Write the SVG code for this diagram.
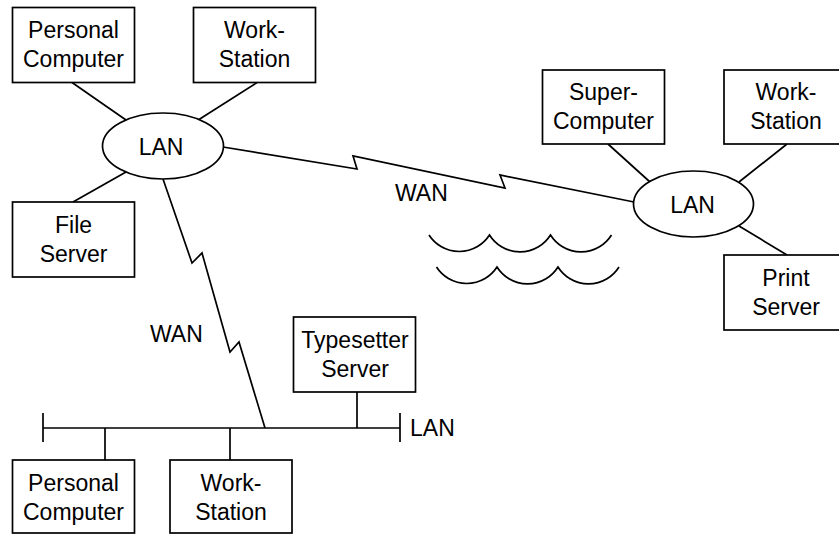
<svg xmlns="http://www.w3.org/2000/svg" width="839" height="535" viewBox="0 0 839 535">
<style>
.box{fill:#fff;stroke:#000;stroke-width:1.7}
.ell{fill:#fff;stroke:#000;stroke-width:1.7}
.ln{fill:none;stroke:#000;stroke-width:1.7;stroke-linejoin:miter}
text{font-family:"Liberation Sans",Arial,Helvetica,sans-serif;font-size:23px;fill:#000}
.c{text-anchor:middle}
</style>
<rect width="839" height="535" fill="#fff"/>
<g id="connectors">
<line class="ln" x1="72" y1="82.5" x2="126" y2="120"/>
<line class="ln" x1="257" y1="82.5" x2="199" y2="119.5"/>
<line class="ln" x1="73" y1="202" x2="126" y2="172"/>
<path class="ln" d="M223,147 L357,169 L353,156 L505,188 L500,175 L634,202"/>
<path class="ln" d="M163,179 L192,263 L202,253 L230,352 L239,342 L265,428"/>
<line class="ln" x1="608" y1="144" x2="650" y2="182"/>
<line class="ln" x1="787" y1="144" x2="739" y2="182"/>
<line class="ln" x1="739" y1="226" x2="787" y2="255"/>
<line class="ln" x1="43" y1="428" x2="400" y2="428"/>
<line class="ln" x1="43" y1="413" x2="43" y2="442"/>
<line class="ln" x1="400" y1="413" x2="400" y2="442"/>
<line class="ln" x1="105" y1="428" x2="105" y2="460"/>
<line class="ln" x1="230" y1="428" x2="230" y2="460"/>
<line class="ln" x1="357" y1="392" x2="357" y2="428"/>
</g>
<g id="waves">
<path class="ln" d="M429,235 A36,36 0 0 0 489.5,235 A36,36 0 0 0 550.5,235 A36,36 0 0 0 611.5,235"/>
<path class="ln" d="M436.5,267 A36,36 0 0 0 497,267 A36,36 0 0 0 558,267 A36,36 0 0 0 619,267"/>
</g>
<g id="labels">
<text x="395" y="201">WAN</text>
<text x="150" y="342">WAN</text>
<text x="410" y="436">LAN</text>
</g>
<g id="pc1"><rect class="box" x="12.5" y="7.5" width="122" height="75"/><text class="c" x="73.5" y="38">Personal</text><text class="c" x="73.5" y="67">Computer</text></g>
<g id="ws1"><rect class="box" x="193.5" y="7.5" width="122" height="75"/><text class="c" x="254.5" y="38">Work-</text><text class="c" x="254.5" y="67">Station</text></g>
<g id="lan1"><ellipse class="ell" cx="163" cy="146" rx="60.5" ry="33"/><text class="c" x="161" y="154.5">LAN</text></g>
<g id="fs"><rect class="box" x="12.5" y="202" width="122" height="75"/><text class="c" x="73.5" y="232.5">File</text><text class="c" x="73.5" y="261.5">Server</text></g>
<g id="sc"><rect class="box" x="542.5" y="70" width="122" height="74"/><text class="c" x="603.5" y="99.5">Super-</text><text class="c" x="603.5" y="128.5">Computer</text></g>
<g id="ws2"><rect class="box" x="724" y="70" width="124" height="74"/><text class="c" x="786" y="99.5">Work-</text><text class="c" x="786" y="128.5">Station</text></g>
<g id="lan2"><ellipse class="ell" cx="693.5" cy="204" rx="60" ry="33"/><text class="c" x="692.5" y="212.5">LAN</text></g>
<g id="ps"><rect class="box" x="724" y="255" width="124" height="75"/><text class="c" x="786" y="285.5">Print</text><text class="c" x="786" y="314.5">Server</text></g>
<g id="ts"><rect class="box" x="293.5" y="317" width="122" height="75"/><text class="c" x="355" y="347.5">Typesetter</text><text class="c" x="355" y="376.5">Server</text></g>
<g id="pc2"><rect class="box" x="12.5" y="460" width="122" height="73"/><text class="c" x="73.5" y="490.5">Personal</text><text class="c" x="73.5" y="519.5">Computer</text></g>
<g id="ws3"><rect class="box" x="170" y="460" width="122" height="73"/><text class="c" x="231" y="490.5">Work-</text><text class="c" x="231" y="519.5">Station</text></g>
</svg>
